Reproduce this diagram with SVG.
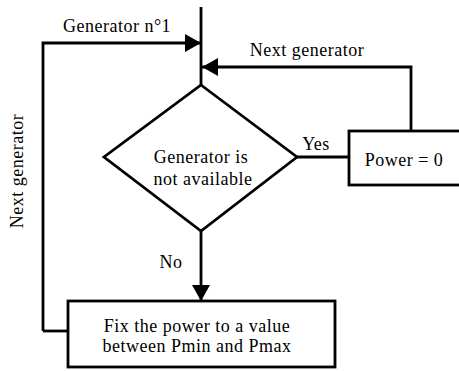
<svg xmlns="http://www.w3.org/2000/svg" width="459" height="371" viewBox="0 0 459 371">
<style>
text{font-family:"Liberation Serif","Times New Roman",serif;font-size:18px;letter-spacing:0.5px;fill:#000}
.c{text-anchor:middle}
.ln{fill:none;stroke:#000;stroke-width:2.8}
.sh{fill:#fff;stroke:#000;stroke-width:2.8}
</style>
<defs>
<marker id="ah" viewBox="0 0 16 18" refX="16" refY="9" markerWidth="16" markerHeight="18" markerUnits="userSpaceOnUse" orient="auto">
<path d="M0,0 L16,9 L0,18 Z" fill="#000"/>
</marker>
</defs>
<g id="connectors">
<path class="ln" d="M201,7 V85"/>
<path class="ln" d="M43,331 V43 H201" marker-end="url(#ah)"/>
<path class="ln" d="M411,131 V67 H202" marker-end="url(#ah)"/>
<path class="ln" d="M297,157 H349"/>
<path class="ln" d="M201,231 V301" marker-end="url(#ah)"/>
<path class="ln" d="M43,331 H68"/>
<text x="117" y="32" class="c">Generator n°1</text>
<text x="307" y="56" class="c">Next generator</text>
<text x="316" y="150" class="c">Yes</text>
<text x="171" y="268" class="c">No</text>
<text class="c" transform="translate(23,171) rotate(-90)">Next generator</text>
</g>
<g id="decision">
<polygon class="sh" points="201,85 297,157 201,231 104,157"/>
<text x="201" y="163" class="c">Generator is</text>
<text x="203" y="185" class="c">not available</text>
</g>
<g id="power-zero">
<rect class="sh" x="349" y="131" width="112" height="54"/>
<text x="404" y="166" class="c">Power = 0</text>
</g>
<g id="fix-power">
<rect class="sh" x="68" y="301" width="267" height="66"/>
<text x="197" y="332" class="c">Fix the power to a value</text>
<text x="197" y="352" class="c">between Pmin and Pmax</text>
</g>
</svg>
